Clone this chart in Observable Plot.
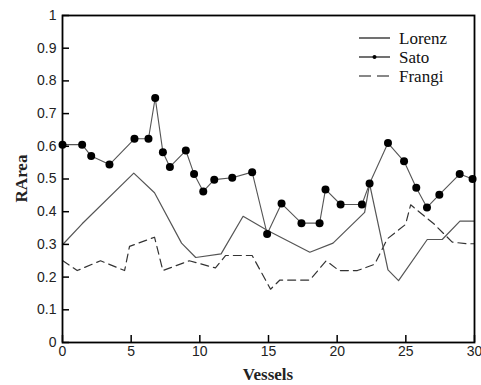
<!DOCTYPE html>
<html><head><meta charset="utf-8">
<script src="https://cdn.jsdelivr.net/npm/d3@7"></script>
<script src="https://cdn.jsdelivr.net/npm/@observablehq/plot@0.6"></script>
<style>body{margin:0;background:#fff}</style>
</head><body><div id="chart"></div>
<script>
const satoX = [0,1.43,2.09,3.42,5.24,6.26,6.75,7.31,7.82,8.98,9.58,10.25,11.05,12.36,13.81,14.9,15.95,17.4,18.72,19.15,20.25,21.8,22.36,23.7,24.87,25.76,26.54,27.44,28.92,29.86];
const satoY = [0.605,0.605,0.57,0.544,0.623,0.623,0.748,0.582,0.537,0.587,0.515,0.462,0.498,0.504,0.521,0.332,0.425,0.365,0.365,0.468,0.422,0.422,0.486,0.61,0.554,0.473,0.413,0.452,0.515,0.5];
const lorenzX = [0,1.43,5.19,6.7,8.67,9.7,11.55,13.15,14.9,18.01,19.7,22.0,22.36,23.7,24.47,26.56,27.65,28.94,30];
const lorenzY = [0.299,0.363,0.518,0.458,0.304,0.26,0.271,0.386,0.343,0.276,0.304,0.398,0.485,0.222,0.189,0.315,0.315,0.371,0.371];
const frangiX = [0,1.07,2.77,4.52,4.88,6.7,7.31,9.23,11.14,11.87,13.81,15.15,15.83,18.01,19.2,20.13,21.47,22.73,23.65,24.98,25.35,27.04,28.38,29.47,30];
const frangiY = [0.251,0.22,0.25,0.22,0.294,0.322,0.22,0.25,0.228,0.266,0.266,0.163,0.191,0.191,0.25,0.22,0.22,0.239,0.317,0.361,0.421,0.363,0.307,0.302,0.302];
const xTicks = [0,5,10,15,20,25,30];
const yTicks = [0,0.1,0.2,0.3,0.4,0.5,0.6,0.7,0.8,0.9,1];
const seriesNames = ["Lorenz","Sato","Frangi"];

const sato = satoX.map((x,i)=>({x, y: satoY[i]}));
const lorenz = lorenzX.map((x,i)=>({x, y: lorenzY[i]}));
const frangi = frangiX.map((x,i)=>({x, y: frangiY[i]}));

const W = 481, H = 385;
const mL = 62, mR = 7, mT = 15, mB = 43;
const plotW = W - mL - mR, plotH = H - mT - mB;

const chart = Plot.plot({
  width: W, height: H,
  marginLeft: mL, marginRight: mR, marginTop: mT, marginBottom: mB,
  style: {fontFamily: "'Liberation Sans', Arial, sans-serif", background: "#fff"},
  x: {domain: [0,30], ticks: xTicks},
  y: {domain: [0,1], ticks: yTicks},
  marks: [
    Plot.line(frangi, {x:"x", y:"y", stroke:"#333", strokeWidth:1.2, strokeDasharray:"8,5"}),
    Plot.line(lorenz, {x:"x", y:"y", stroke:"#555", strokeWidth:1.2}),
    Plot.line(sato, {x:"x", y:"y", stroke:"#555", strokeWidth:1.1}),
    Plot.dot(sato, {x:"x", y:"y", r:4, fill:"#000", stroke:"none"}),
    Plot.tickX(xTicks, {x: d=>d, stroke:"#000", strokeWidth:1.5, insetTop: plotH - 7}),
    Plot.tickY(yTicks, {y: d=>d, stroke:"#000", strokeWidth:1.5, insetRight: plotW - 7}),
    Plot.axisX({ticks: xTicks, tickSize: 0, tickPadding: 4, fontSize: 14, color:"#222", label: null, tickFormat: d => String(d)}),
    Plot.axisY({ticks: yTicks, tickSize: 0, tickPadding: 6, fontSize: 14, color:"#222", label: null, tickFormat: d => String(d)}),
    Plot.frame({stroke:"#000", strokeWidth:1.8})
  ]
});
document.getElementById("chart").appendChild(chart);

const svg = d3.select(chart);
const serif = "'Liberation Serif', 'Times New Roman', serif";
svg.append("text").attr("x", mL + plotW/2).attr("y", 380).attr("text-anchor","middle")
  .style("font-family", serif).style("font-weight","bold").style("font-size","17px").attr("fill","#222").text("Vessels");
svg.append("text").attr("transform", `translate(27,${mT + plotH/2}) rotate(-90)`).attr("text-anchor","middle")
  .style("font-family", serif).style("font-weight","bold").style("font-size","17px").attr("fill","#222").text("RArea");

// legend
const lg = svg.append("g");
const lx1 = 359, lx2 = 390, tx = 399;
const rows = [38, 57, 76];
seriesNames.forEach((name,i)=>{
  const y = rows[i];
  const ln = lg.append("line").attr("x1",lx1).attr("x2",lx2).attr("y1",y).attr("y2",y)
    .attr("stroke", "#111").attr("stroke-width",1.2);
  if (name === "Frangi") ln.attr("stroke-dasharray","12,6");
  if (name === "Sato") lg.append("circle").attr("cx",(lx1+lx2)/2).attr("cy",y).attr("r",2).attr("fill","#000");
  lg.append("text").attr("x",tx).attr("y",y).attr("dy","0.35em").attr("text-anchor","start")
    .style("font-family",serif).style("font-size","17px").attr("fill","#111").text(name);
});
</script></body></html>
